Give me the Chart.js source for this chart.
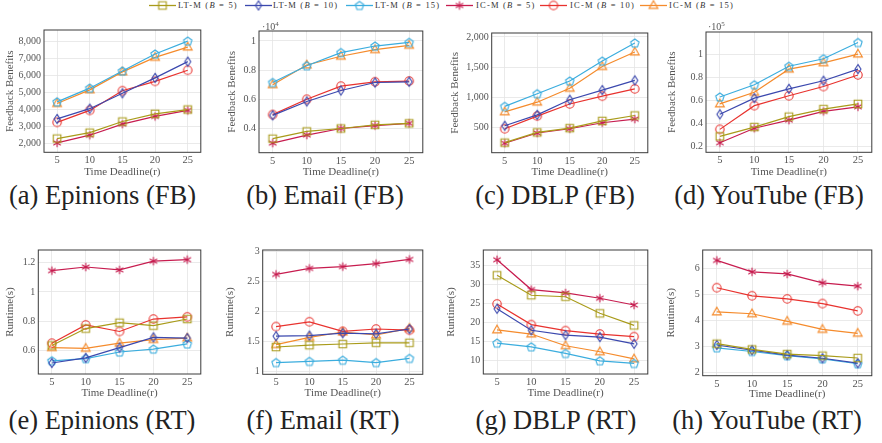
<!DOCTYPE html>
<html><head><meta charset="utf-8">
<script src="https://cdn.jsdelivr.net/npm/chart.js@4/dist/chart.umd.min.js"></script>
<style>
body{margin:0;background:#fff;width:882px;height:443px;position:relative;overflow:hidden;font-family:"Liberation Serif",serif;}
canvas.cv{position:absolute;}
.cap{position:absolute;font-size:26.5px;line-height:26px;color:#222;white-space:nowrap;transform:translateX(-50%);}
.legtxt{position:absolute;font-size:8.5px;line-height:10px;letter-spacing:1.2px;color:#333;white-space:nowrap;top:0px;}
.legmk{position:absolute;top:0px;}
.mult{position:absolute;font-size:10px;line-height:10px;color:#555;white-space:nowrap;}
</style></head><body>
<script>
// ---------------- data ----------------
const xValues = [5, 10, 15, 20, 25];
const seriesNames = ['LT-M (B = 5)', 'LT-M (B = 10)', 'LT-M (B = 15)', 'IC-M (B = 5)', 'IC-M (B = 10)', 'IC-M (B = 15)'];
const seriesColors = ['#a99b1a', '#3b48ae', '#3badde', '#c71c4f', '#e8322e', '#f58b2c'];
const seriesMarkers = ['square', 'diamond', 'pentagon', 'star', 'circle', 'triangle'];

// series order: LT5, LT10, LT15, IC5, IC10, IC15
const epinionsFB = [
  [2300, 2650, 3300, 3750, 4000],
  [3450, 4050, 4950, 5850, 6800],
  [4450, 5250, 6250, 7250, 8000],
  [2050, 2500, 3150, 3600, 3950],
  [3250, 3950, 5100, 5650, 6300],
  [4350, 5150, 6200, 7050, 7650]
];
const emailFB = [ // x 10^4
  [0.33, 0.38, 0.40, 0.425, 0.435],
  [0.49, 0.585, 0.66, 0.715, 0.72],
  [0.715, 0.83, 0.92, 0.965, 0.99],
  [0.30, 0.355, 0.40, 0.42, 0.435],
  [0.495, 0.60, 0.69, 0.72, 0.725],
  [0.70, 0.835, 0.895, 0.94, 0.97]
];
const dblpFB = [
  [250, 420, 490, 610, 700],
  [530, 710, 960, 1120, 1280],
  [850, 1060, 1270, 1600, 1900],
  [240, 410, 480, 580, 640],
  [480, 690, 890, 1020, 1140],
  [760, 920, 1150, 1510, 1750]
];
const youtubeFB = [ // x 10^5
  [0.29, 0.37, 0.46, 0.525, 0.57],
  [0.48, 0.62, 0.70, 0.77, 0.87],
  [0.63, 0.735, 0.895, 0.96, 1.10],
  [0.235, 0.36, 0.43, 0.505, 0.545],
  [0.35, 0.555, 0.64, 0.72, 0.82],
  [0.57, 0.67, 0.87, 0.925, 1.0]
];
const epinionsRT = [
  [0.635, 0.75, 0.79, 0.77, 0.815],
  [0.515, 0.55, 0.62, 0.69, 0.685],
  [0.53, 0.545, 0.59, 0.61, 0.645],
  [1.145, 1.17, 1.15, 1.21, 1.22],
  [0.65, 0.775, 0.73, 0.815, 0.83],
  [0.62, 0.615, 0.65, 0.675, 0.685]
];
const emailRT = [
  [1.40, 1.43, 1.45, 1.47, 1.47],
  [1.58, 1.59, 1.63, 1.62, 1.70],
  [1.14, 1.16, 1.18, 1.14, 1.21],
  [2.61, 2.71, 2.74, 2.79, 2.86],
  [1.74, 1.82, 1.66, 1.70, 1.68],
  [1.44, 1.56, 1.65, 1.60, 1.71]
];
const dblpRT = [
  [32.5, 27.2, 26.8, 22.4, 19.2],
  [23.6, 17.9, 16.6, 16.1, 14.3],
  [14.5, 13.5, 11.75, 9.8, 9.1],
  [36.6, 28.7, 27.8, 26.4, 24.6],
  [24.9, 19.4, 17.8, 16.9, 16.2],
  [18.0, 16.9, 13.8, 12.2, 10.3]
];
const youtubeRT = [
  [3.1, 2.88, 2.7, 2.64, 2.55],
  [3.05, 2.85, 2.66, 2.54, 2.35],
  [2.94, 2.8, 2.64, 2.52, 2.33],
  [6.3, 5.86, 5.78, 5.44, 5.31],
  [5.25, 4.94, 4.82, 4.64, 4.36],
  [4.32, 4.25, 3.96, 3.65, 3.5]
];

const epinionsFBTicks = [2000, 3000, 4000, 5000, 6000, 7000, 8000];
const emailFBTicks = [0.4, 0.6, 0.8, 1];
const dblpFBTicks = [500, 1000, 1500, 2000];
const youtubeFBTicks = [0.2, 0.4, 0.6, 0.8, 1];
const epinionsRTTicks = [0.6, 0.8, 1, 1.2];
const emailRTTicks = [1, 1.5, 2, 2.5, 3];
const dblpRTTicks = [10, 15, 20, 25, 30, 35];
const youtubeRTTicks = [2, 3, 4, 5, 6];

const captions = ['(a) Epinions (FB)', '(b) Email (FB)', '(c) DBLP (FB)', '(d) YouTube (FB)',
                  '(e) Epinions (RT)', '(f) Email (RT)', '(g) DBLP (RT)', '(h) YouTube (RT)'];
const xTitle = 'Time Deadline(r)';
const fbTitle = 'Feedback Benefits';
const rtTitle = 'Runtime(s)';

// ---------------- layout ----------------
const FONT = '"Liberation Serif", serif';
const panels = [
  {data: epinionsFB, ticks: epinionsFBTicks, comma: true, yMin: 1500, yMax: 8650, yTitle: fbTitle, l: 44, r: 202, t: 29, b: 152.3, yt: 10.5, xt: 172.7, cx: 102.5, cy: 195},
  {data: emailFB, ticks: emailFBTicks, yMin: 0.234, yMax: 1.068, yTitle: fbTitle, l: 259, r: 424, t: 30, b: 152.7, yt: 232, xt: 172.7, cx: 325, cy: 195, mult: '4', mx: 262, my: 19},
  {data: dblpFB, ticks: dblpFBTicks, comma: true, yMin: 84, yMax: 2065, yTitle: fbTitle, l: 491.7, r: 649, t: 31.7, b: 152.7, yt: 455, xt: 172.7, cx: 555, cy: 195},
  {data: youtubeFB, ticks: youtubeFBTicks, yMin: 0.152, yMax: 1.191, yTitle: fbTitle, l: 706, r: 873.3, t: 31, b: 152.3, yt: 672, xt: 172.7, cx: 769, cy: 195, mult: '5', mx: 708, my: 19},
  {data: epinionsRT, ticks: epinionsRTTicks, yMin: 0.44, yMax: 1.286, yTitle: rtTitle, l: 38.3, r: 202, t: 249, b: 374, yt: 10.5, xt: 393.3, cx: 102, cy: 420},
  {data: emailRT, ticks: emailRTTicks, yMin: 0.945, yMax: 3.017, yTitle: rtTitle, l: 262.7, r: 424, t: 249, b: 374.3, yt: 230.7, xt: 393.3, cx: 323, cy: 420},
  {data: dblpRT, ticks: dblpRTTicks, yMin: 6.3, yMax: 39.2, yTitle: rtTitle, l: 483.3, r: 649.3, t: 249, b: 374, yt: 451.7, xt: 393.7, cx: 556, cy: 420},
  {data: youtubeRT, ticks: youtubeRTTicks, yMin: 1.87, yMax: 6.7, yTitle: rtTitle, l: 702.7, r: 873.3, t: 249, b: 375.7, yt: 671.7, xt: 394.3, cx: 767, cy: 420}
];

// ---------------- markers ----------------
function makeMarker(shape, color) {
  const s = 14, m = s / 2;
  const c = document.createElement('canvas');
  c.width = s; c.height = s;
  const g = c.getContext('2d');
  g.strokeStyle = color; g.lineWidth = 1.1; g.beginPath();
  if (shape === 'square') { g.rect(m - 3.8, m - 3.8, 7.6, 7.6); }
  else if (shape === 'diamond') { g.moveTo(m, m - 4.6); g.lineTo(m + 3, m); g.lineTo(m, m + 4.6); g.lineTo(m - 3, m); g.closePath(); }
  else if (shape === 'pentagon') {
    for (let k = 0; k < 5; k++) { const a = -Math.PI / 2 + k * 2 * Math.PI / 5; const x = m + 4.4 * Math.cos(a), y = m + 0.4 + 4.4 * Math.sin(a); if (k) g.lineTo(x, y); else g.moveTo(x, y); }
    g.closePath();
  }
  else if (shape === 'star') {
    for (let k = 0; k < 3; k++) { const a = Math.PI / 2 + k * Math.PI / 3; g.moveTo(m - 4.3 * Math.cos(a), m - 4.3 * Math.sin(a)); g.lineTo(m + 4.3 * Math.cos(a), m + 4.3 * Math.sin(a)); }
  }
  else if (shape === 'circle') { g.arc(m, m, 4.2, 0, Math.PI * 2); }
  else if (shape === 'triangle') { g.moveTo(m, m - 4.8); g.lineTo(m + 4.4, m + 2.9); g.lineTo(m - 4.4, m + 2.9); g.closePath(); }
  g.stroke();
  return c;
}
const markerImgs = seriesMarkers.map((s, i) => makeMarker(s, seriesColors[i]));

// ---------------- legend ----------------
const legLine = [149, 245, 346, 446, 540, 640];
const legText = [178, 273, 375, 476, 570, 669];
seriesNames.forEach((name, i) => {
  const c = document.createElement('canvas');
  c.width = 27; c.height = 11; c.className = 'legmk';
  c.style.left = legLine[i] + 'px';
  const g = c.getContext('2d');
  g.strokeStyle = seriesColors[i]; g.lineWidth = 1.3;
  g.beginPath(); g.moveTo(0, 5.5); g.lineTo(27, 5.5); g.stroke();
  g.drawImage(markerImgs[i], 13.5 - 7, 5.5 - 7);
  document.body.appendChild(c);
  const sp = document.createElement('div');
  sp.className = 'legtxt';
  sp.style.left = legText[i] + 'px';
  sp.innerHTML = name.replace('(B', '(<i>B</i>');
  document.body.appendChild(sp);
});

// ---------------- charts ----------------
const framePlugin = {
  id: 'frame',
  afterDatasetsDraw(chart) {
    const {ctx, chartArea: a} = chart;
    ctx.save(); ctx.strokeStyle = '#3a3a3a'; ctx.lineWidth = 1;
    ctx.strokeRect(a.left, a.top, a.right - a.left, a.bottom - a.top);
    ctx.restore();
  }
};

function fmt(v, comma) {
  return comma ? v.toLocaleString('en-US') : String(v);
}

panels.forEach((p, idx) => {
  const left = Math.round(p.yt - 6.5);
  const top = Math.round(p.t) - 8;
  const right = Math.round(p.r) + 4;
  const bottom = Math.round(p.xt + 6.5);
  const W = right - left, H = bottom - top;
  const yW = p.l - left;
  const xH = bottom - p.b;
  const padTop = p.t - top;
  const padRight = right - p.r;
  const c = document.createElement('canvas');
  c.className = 'cv'; c.width = W; c.height = H;
  c.style.left = left + 'px'; c.style.top = top + 'px';
  c.style.width = W + 'px'; c.style.height = H + 'px';
  document.body.appendChild(c);

  new Chart(c, {
    type: 'line',
    data: {
      datasets: p.data.map((vals, i) => ({
        label: seriesNames[i],
        data: xValues.map((x, j) => ({x: x, y: vals[j]})),
        borderColor: seriesColors[i],
        backgroundColor: seriesColors[i],
        borderWidth: 1.2,
        pointStyle: markerImgs[i],
        pointRadius: 4,
        pointHoverRadius: 4,
        fill: false,
        tension: 0,
        clip: false
      }))
    },
    options: {
      responsive: false, animation: false, devicePixelRatio: 1, events: [],
      layout: {padding: {top: padTop, right: padRight, left: 0, bottom: 0}},
      plugins: {legend: {display: false}, tooltip: {enabled: false}},
      scales: {
        x: {
          type: 'linear', min: 3, max: 27,
          afterBuildTicks: s => { s.ticks = xValues.map(v => ({value: v})); },
          afterFit: s => { s.height = xH; },
          grid: {color: '#e4e4e4', lineWidth: 0.8, drawTicks: false},
          border: {display: false},
          ticks: {padding: 2, color: '#555', font: {family: FONT, size: 10.5}, maxRotation: 0, autoSkip: false, callback: v => String(v)},
          title: {display: true, text: xTitle, color: '#555', font: {family: FONT, size: 11}, padding: 0}
        },
        y: {
          type: 'linear', min: p.yMin, max: p.yMax,
          afterBuildTicks: s => { s.ticks = p.ticks.map(v => ({value: v})); },
          afterFit: s => { s.width = yW; },
          grid: {color: '#e4e4e4', lineWidth: 0.8, drawTicks: false},
          border: {display: false},
          ticks: {padding: 3, color: '#555', font: {family: FONT, size: 10}, autoSkip: false, callback: v => fmt(v, p.comma)},
          title: {display: true, text: p.yTitle, color: '#555', font: {family: FONT, size: 11}, padding: 0}
        }
      }
    },
    plugins: [framePlugin]
  });

  if (p.mult) {
    const d = document.createElement('div');
    d.className = 'mult';
    d.style.left = p.mx + 'px'; d.style.top = p.my + 'px';
    d.innerHTML = '·10<sup style="font-size:7px">' + p.mult + '</sup>';
    document.body.appendChild(d);
  }
  const cap = document.createElement('div');
  cap.className = 'cap';
  cap.style.left = p.cx + 'px';
  cap.style.top = (p.cy - 13) + 'px';
  cap.textContent = captions[idx];
  document.body.appendChild(cap);
});
</script>
</body></html>
